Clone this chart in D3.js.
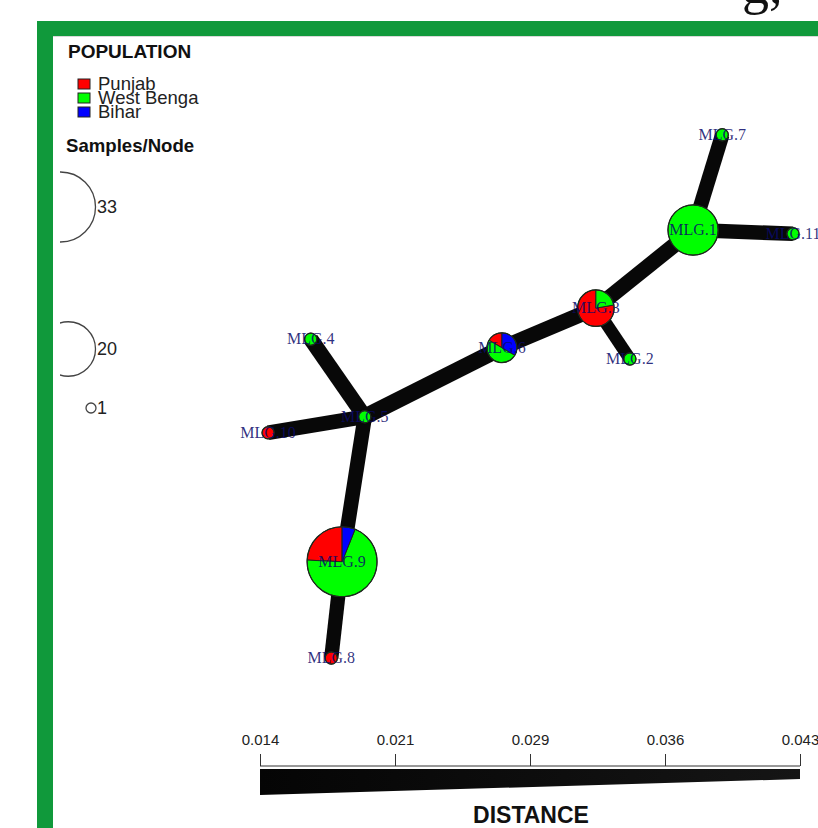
<!DOCTYPE html>
<html>
  <head>
    <title>MLG Network</title>
    <script src="https://cdn.jsdelivr.net/npm/d3@7"></script>
    <style>
      body { margin: 0; background: #fff; }
      svg { display: block; }
    </style>
  </head>
  <body>
    <div id="chartDiv"></div>
    <script>
      // nodes (layout coordinates are 0..1 in both directions)
      var mlgNames = ["MLG.1", "MLG.2", "MLG.3", "MLG.4", "MLG.5", "MLG.6", "MLG.7", "MLG.8", "MLG.9", "MLG.10", "MLG.11"];
      var layoutX = [0.802, 0.685, 0.622, 0.094, 0.194, 0.448, 0.856, 0.132, 0.152, 0.015, 0.987];
      var layoutY = [0.187, 0.428, 0.333, 0.391, 0.536, 0.407, 0.009, 0.987, 0.807, 0.566, 0.194];

      // samples per population in each node
      var punjab     = [0, 0, 7, 0, 0, 1, 0, 1, 8, 1, 0];
      var westBengal = [17, 1, 2, 1, 1, 3, 1, 0, 23, 0, 1];
      var bihar      = [0, 0, 0, 0, 0, 2, 0, 0, 2, 0, 0];

      // edges of the minimum spanning network
      var edgeFrom = ["MLG.9", "MLG.9", "MLG.5", "MLG.5", "MLG.5", "MLG.6", "MLG.3", "MLG.3", "MLG.1", "MLG.1"];
      var edgeTo   = ["MLG.8", "MLG.5", "MLG.4", "MLG.10", "MLG.6", "MLG.3", "MLG.2", "MLG.1", "MLG.7", "MLG.11"];
      var edgeDist = [0.025, 0.024, 0.021, 0.024, 0.017, 0.021, 0.033, 0.021, 0.024, 0.024];

      var populations = ["Punjab", "West Benga", "Bihar"];
      var popColors = ["#ff0000", "#00ff00", "#0000ff"];
      var legendSizes = [33, 20, 1];
      var distTicks = ["0.014", "0.021", "0.029", "0.036", "0.043"];

      var width = 818, height = 828;

      var svg = d3.select("#chartDiv")
        .append("svg")
        .attr("width", width)
        .attr("height", height);

      // scales
      var x = d3.scaleLinear().domain([0, 1]).range([260, 800]);
      var y = d3.scaleLinear().domain([0, 1]).range([130, 665]);
      var r = d3.scaleSqrt().domain([0, 33]).range([0, 35]);
      var edgeWidth = d3.scaleLinear().domain([0.014, 0.043]).range([17, 10]);

      var nodes = mlgNames.map(function(name, i) {
        return {
          name: name,
          x: x(layoutX[i]),
          y: y(layoutY[i]),
          counts: [punjab[i], westBengal[i], bihar[i]],
          total: punjab[i] + westBengal[i] + bihar[i]
        };
      });
      var byName = {};
      nodes.forEach(function(n) { byName[n.name] = n; });

      // edges
      var main = svg.append("g");
      main.selectAll("line.edge")
        .data(edgeFrom)
        .enter().append("line")
          .attr("class", "edge")
          .attr("x1", function(d) { return byName[d].x; })
          .attr("y1", function(d) { return byName[d].y; })
          .attr("x2", function(d, i) { return byName[edgeTo[i]].x; })
          .attr("y2", function(d, i) { return byName[edgeTo[i]].y; })
          .attr("stroke", "#080808")
          .attr("stroke-width", function(d, i) { return edgeWidth(edgeDist[i]); });

      // pie nodes, drawn counter-clockwise from 12 o'clock like igraph
      var pie = d3.pie().sort(null).startAngle(0).endAngle(-2 * Math.PI);
      var node = main.selectAll("g.node")
        .data(nodes)
        .enter().append("g")
          .attr("class", "node")
          .attr("transform", function(d) { return "translate(" + d.x + "," + d.y + ")"; });

      node.each(function(d) {
        var g = d3.select(this);
        var arc = d3.arc().innerRadius(0).outerRadius(r(d.total));
        var slices = pie(d.counts).filter(function(s) { return s.value > 0; });
        g.selectAll("path")
          .data(slices)
          .enter().append("path")
            .attr("d", arc)
            .attr("fill", function(s) { return popColors[s.index]; })
            .attr("stroke", "#222")
            .attr("stroke-width", 1);
        g.append("circle")
          .attr("r", r(d.total))
          .attr("fill", "none")
          .attr("stroke", "#1c2a1c")
          .attr("stroke-width", 1.2);
      });

      // node labels
      main.selectAll("text.lab")
        .data(nodes)
        .enter().append("text")
          .attr("class", "lab")
          .attr("x", function(d) { return d.x; })
          .attr("y", function(d) { return d.y + 5; })
          .attr("text-anchor", "middle")
          .style("font-family", "'Liberation Serif', 'Times New Roman', serif")
          .style("font-size", "16px")
          .style("fill", "#0a0a6a")
          .style("fill-opacity", 0.85)
          .text(function(d) { return d.name; });

      // population legend
      var legend = svg.append("g").style("font-family", "'Liberation Sans', Arial, sans-serif");
      legend.append("text")
        .attr("x", 68).attr("y", 58)
        .style("font-size", "19px").style("font-weight", "bold").style("fill", "#111")
        .text("POPULATION");

      legend.selectAll("rect.key")
        .data(populations)
        .enter().append("rect")
          .attr("class", "key")
          .attr("x", 78)
          .attr("y", function(d, i) { return 79 + i * 14; })
          .attr("width", 12)
          .attr("height", 10)
          .attr("fill", function(d, i) { return popColors[i]; })
          .attr("stroke", "#222");

      legend.selectAll("text.key")
        .data(populations)
        .enter().append("text")
          .attr("class", "key")
          .attr("x", 98)
          .attr("y", function(d, i) { return 90 + i * 14; })
          .style("font-size", "18.5px")
          .style("fill", "#222")
          .text(function(d) { return d; });

      legend.append("text")
        .attr("x", 66).attr("y", 152)
        .style("font-size", "18.6px").style("font-weight", "bold").style("fill", "#111")
        .text("Samples/Node");

      // size legend: circles share a right edge, clipped at the plot's left edge
      legend.append("clipPath").attr("id", "sizeClip")
        .append("rect").attr("x", 60).attr("y", 150).attr("width", 100).attr("height", 300);

      var sizeY = [207, 349, 408];
      legend.append("g")
        .attr("clip-path", "url(#sizeClip)")
        .selectAll("circle.size")
        .data(legendSizes)
        .enter().append("circle")
          .attr("class", "size")
          .attr("cx", function(d) { return d === 1 ? 91 : 95.5 - r(d); })
          .attr("cy", function(d, i) { return sizeY[i]; })
          .attr("r", function(d) { return d === 1 ? 5 : r(d); })
          .attr("fill", "none")
          .attr("stroke", "#444")
          .attr("stroke-width", 1.3);

      legend.selectAll("text.size")
        .data(legendSizes)
        .enter().append("text")
          .attr("class", "size")
          .attr("x", 97)
          .attr("y", function(d, i) { return sizeY[i] + 6; })
          .style("font-size", "18px")
          .style("fill", "#222")
          .text(function(d) { return d; });

      // distance scale bar
      var distX = d3.scalePoint().domain(distTicks).range([260, 800]);
      var axisG = svg.append("g")
        .attr("transform", "translate(0,766)")
        .call(d3.axisTop(distX).tickSize(12).tickPadding(9));
      axisG.select(".domain").attr("d", "M260,0H800").attr("stroke", "#333");
      axisG.selectAll(".tick line").attr("stroke", "#333");
      axisG.selectAll(".tick text")
        .style("font-family", "'Liberation Sans', Arial, sans-serif")
        .style("font-size", "15px")
        .style("fill", "#222");

      var defs = svg.append("defs");
      var grad = defs.append("linearGradient").attr("id", "wedgeGrad");
      grad.append("stop").attr("offset", "0%").attr("stop-color", "#050505");
      grad.append("stop").attr("offset", "100%").attr("stop-color", "#151515");

      var wedge = [[260, 769], [800, 769], [800, 779], [260, 795]];
      svg.append("path")
        .attr("d", d3.line()(wedge) + "Z")
        .attr("fill", "url(#wedgeGrad)");

      svg.append("text")
        .attr("x", 531).attr("y", 823)
        .attr("text-anchor", "middle")
        .style("font-family", "'Liberation Sans', Arial, sans-serif")
        .style("font-size", "23px").style("font-weight", "bold").style("fill", "#111")
        .text("DISTANCE");

      // green frame of the original figure
      svg.append("rect").attr("x", 37).attr("y", 21).attr("width", 16).attr("height", height - 21).attr("fill", "#10993b");
      svg.append("rect").attr("x", 37).attr("y", 21).attr("width", width - 37).attr("height", 15).attr("fill", "#10993b");
      svg.append("rect").attr("x", 53).attr("y", 36).attr("width", width - 53).attr("height", 1).attr("fill", "#d8d8d8");

      // cut-off caption above the frame
      svg.append("text")
        .attr("x", 742).attr("y", 3)
        .style("font-family", "'Liberation Serif', 'Times New Roman', serif")
        .style("font-size", "54px")
        .style("fill", "#111")
        .text("g,");
    </script>
  </body>
</html>
